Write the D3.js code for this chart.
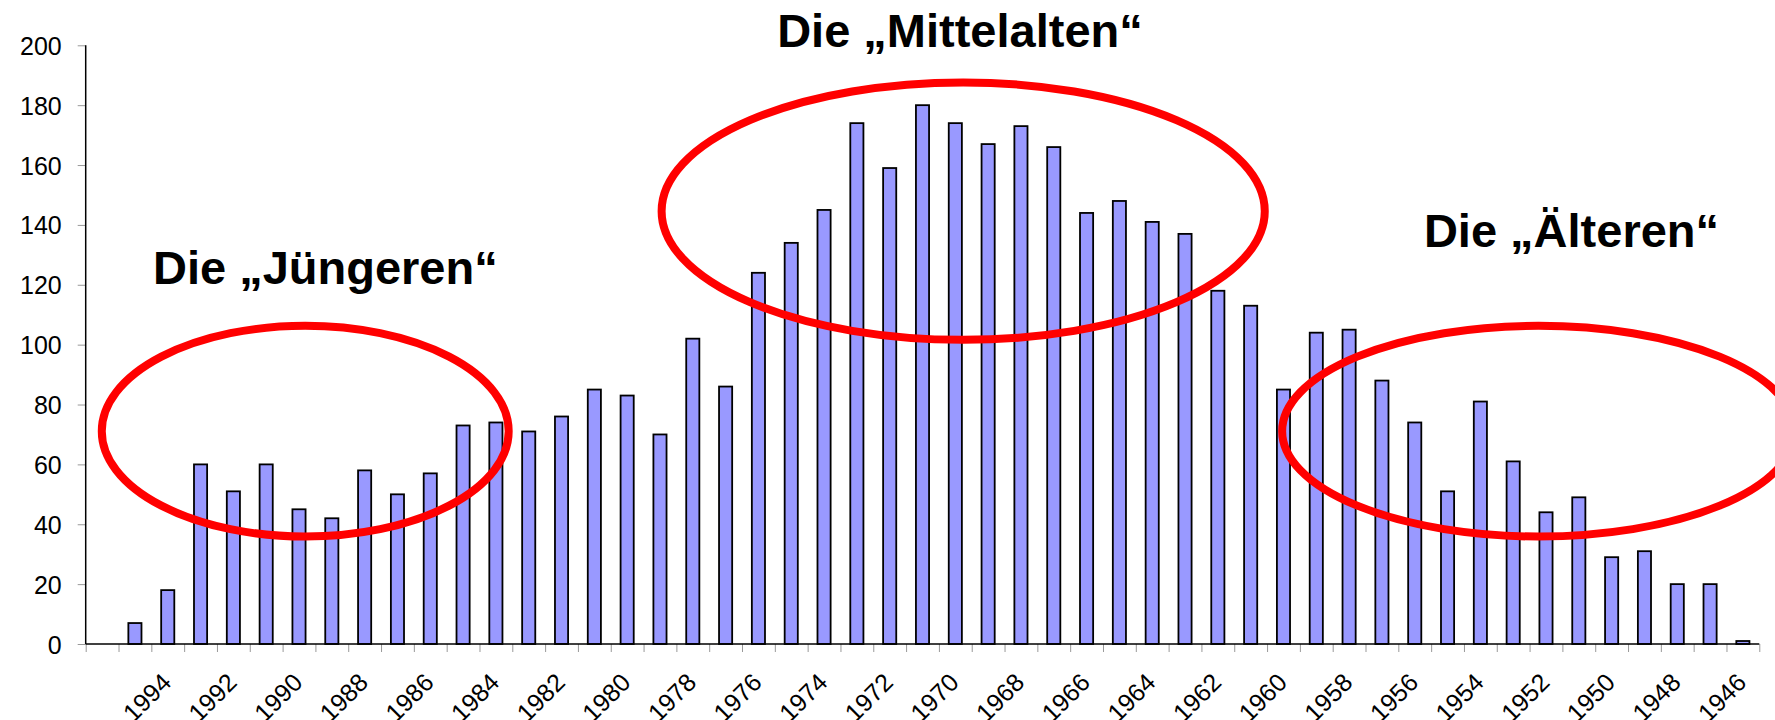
<!DOCTYPE html>
<html>
<head>
<meta charset="utf-8">
<script src="https://cdn.jsdelivr.net/npm/d3@7"></script>
<style>
  body { margin: 0; background: #fff; }
  svg { display: block; font-family: "Liberation Sans", Arial, sans-serif; }
</style>
</head>
<body>
<div class="chart"></div>
<script>
// Jahrgaenge 1996 .. 1946 (1996 ohne Wert)
var years = d3.range(1996, 1945, -1).map(String);
var counts = [null, 7, 18, 60, 51, 60, 45, 42, 58, 50, 57, 73, 74, 71, 76, 85, 83, 70,
  102, 86, 124, 134, 145, 174, 159, 180, 174, 167, 173, 166, 144, 148, 141, 137,
  118, 113, 85, 104, 105, 88, 74, 51, 81, 61, 44, 49, 29, 31, 20, 20, 1];
var yTicks = d3.range(0, 201, 20);
var yearLabels = d3.range(1994, 1945, -2).map(String);

// annotation groups: position in category units / value units
var groups = [
  {label: 'Die \u201EJ\u00FCngeren\u201C', tx: 2.05, ty: 120.2, cx: 6.69, cy: 71.1, rx: 6.2, ry: 35.2},
  {label: 'Die \u201EMittelalten\u201C', tx: 21.07, ty: 199.4, cx: 26.74, cy: 144.6, rx: 9.19, ry: 43.0},
  {label: 'Die \u201E\u00C4lteren\u201C', tx: 40.78, ty: 132.6, cx: 44.27, cy: 71.1, rx: 7.81, ry: 35.2}
];

var width = 1775,
    height = 720,
    margin = {top: 45.3, right: 15.7, bottom: 76, left: 85.7};

var svg = d3.select('.chart').append('svg')
  .attr('width', width)
  .attr('height', height);

var x = d3.scaleBand()
  .domain(years)
  .range([margin.left, width - margin.right])
  .paddingInner(0.6)
  .paddingOuter(0.3);

// category index scale, for boundary ticks and annotations
var xi = d3.scaleLinear()
  .domain([0, years.length])
  .range([margin.left, width - margin.right]);

var y = d3.scaleLinear()
  .domain([0, 200])
  .range([height - margin.bottom, margin.top]);

// y axis
var yAxis = svg.append('g')
  .attr('transform', 'translate(' + margin.left + ',0)')
  .call(d3.axisLeft(y).tickValues(yTicks).tickSize(8).tickPadding(16));
yAxis.select('.domain').remove();
yAxis.selectAll('.tick line').attr('stroke', '#999');
yAxis.selectAll('.tick text')
  .attr('font-size', 25)
  .attr('fill', '#000')
  .attr('dy', '0.36em');

// x boundary ticks
var xTicks = svg.append('g')
  .attr('transform', 'translate(0,' + y(0) + ')')
  .call(d3.axisBottom(xi).tickValues(d3.range(0, years.length + 1)).tickSize(8).tickFormat(''));
xTicks.select('.domain').remove();
xTicks.selectAll('.tick line').attr('stroke', '#999');

// x labels
var xLabels = svg.append('g')
  .attr('transform', 'translate(0,' + y(0) + ')')
  .call(d3.axisBottom(x).tickValues(yearLabels).tickSize(0));
xLabels.select('.domain').remove();
xLabels.selectAll('.tick text')
  .attr('font-size', 25)
  .attr('fill', '#000')
  .attr('text-anchor', 'end')
  .attr('x', 0)
  .attr('y', 0)
  .attr('dy', 0)
  .attr('transform', 'translate(5,40) rotate(-45)');

// bars
svg.append('g').selectAll('rect')
  .data(years.map(function(d, i) { return {year: d, value: counts[i]}; })
    .filter(function(d) { return d.value != null; }))
  .enter().append('rect')
  .attr('x', function(d) { return x(d.year); })
  .attr('y', function(d) { return y(d.value); })
  .attr('width', x.bandwidth())
  .attr('height', function(d) { return y(0) - y(d.value); })
  .attr('fill', '#9999ff')
  .attr('stroke', '#000')
  .attr('stroke-width', 1.8);

// axis lines
svg.append('line')
  .attr('x1', margin.left).attr('x2', margin.left)
  .attr('y1', y(200)).attr('y2', y(0))
  .attr('stroke', '#000').attr('stroke-width', 1.5);
svg.append('line')
  .attr('x1', margin.left).attr('x2', width - margin.right)
  .attr('y1', y(0)).attr('y2', y(0))
  .attr('stroke', '#000').attr('stroke-width', 1.5);

// ellipses and group labels
var step = xi(1) - xi(0),
    unit = y(0) - y(1);
svg.append('g').selectAll('ellipse')
  .data(groups)
  .enter().append('ellipse')
  .attr('cx', function(d) { return xi(d.cx); })
  .attr('cy', function(d) { return y(d.cy); })
  .attr('rx', function(d) { return d.rx * step; })
  .attr('ry', function(d) { return d.ry * unit; })
  .attr('fill', 'none')
  .attr('stroke', '#ff0000')
  .attr('stroke-width', 8);

svg.append('g').selectAll('text')
  .data(groups)
  .enter().append('text')
  .attr('x', function(d) { return xi(d.tx); })
  .attr('y', function(d) { return y(d.ty); })
  .attr('font-size', 47)
  .attr('font-weight', 'bold')
  .attr('fill', '#000')
  .text(function(d) { return d.label; });
</script>
</body>
</html>
